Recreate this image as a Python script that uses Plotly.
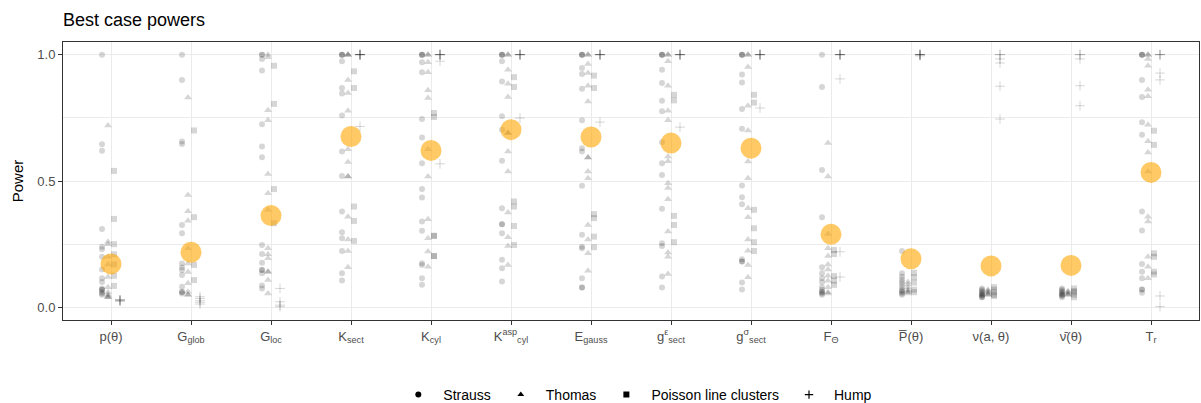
import plotly.graph_objects as go

# Test statistics on the x axis
categories = [
    "p(θ)", "G<sub>glob</sub>", "G<sub>loc</sub>", "K<sub>sect</sub>", "K<sub>cyl</sub>",
    "K<sup>asp</sup><sub>cyl</sub>", "E<sub>gauss</sub>", "g<sup>ε</sup><sub>sect</sub>",
    "g<sup>σ</sup><sub>sect</sub>", "F<sub>Θ</sub>", "P̅(θ)", "ν(a, θ)", "ν̄(θ)", "T<sub>r</sub>",
]

# Power of each test, one list per statistic, per alternative model
strauss = [
    [1.0, 0.645, 0.62, 0.31, 0.24, 0.23, 0.2, 0.15, 0.115, 0.1, 0.075, 0.07, 0.07, 0.06, 0.055, 0.05],
    [1.0, 0.9, 0.656, 0.646, 0.326, 0.293, 0.174, 0.158, 0.148, 0.128, 0.082, 0.062, 0.06, 0.055],
    [1.0, 1.0, 0.983, 0.937, 0.725, 0.637, 0.594, 0.247, 0.211, 0.177, 0.148, 0.148, 0.135, 0.087, 0.075],
    [1.0, 1.0, 1.0, 0.974, 0.868, 0.846, 0.759, 0.617, 0.52, 0.379, 0.297, 0.273, 0.223, 0.135, 0.106],
    [1.0, 1.0, 1.0, 0.97, 0.93, 0.745, 0.672, 0.57, 0.468, 0.435, 0.34, 0.303, 0.175, 0.168, 0.115, 0.089],
    [1.0, 1.0, 1.0, 0.974, 0.894, 0.756, 0.703, 0.58, 0.392, 0.329, 0.329, 0.293, 0.188, 0.155, 0.102],
    [1.0, 1.0, 1.0, 0.947, 0.923, 0.865, 0.74, 0.63, 0.617, 0.481, 0.287, 0.24, 0.234, 0.115, 0.079, 0.079],
    [1.0, 1.0, 1.0, 0.94, 0.888, 0.818, 0.776, 0.653, 0.57, 0.524, 0.39, 0.254, 0.243, 0.122, 0.079],
    [1.0, 1.0, 1.0, 0.921, 0.89, 0.785, 0.707, 0.482, 0.436, 0.408, 0.19, 0.181, 0.181, 0.098, 0.071],
    [1.0, 0.872, 0.544, 0.357, 0.159, 0.135, 0.115, 0.1, 0.08, 0.07, 0.062, 0.06, 0.055, 0.05],
    [0.223, 0.135, 0.122, 0.11, 0.1, 0.09, 0.08, 0.07, 0.065, 0.06, 0.055, 0.05],
    [0.075, 0.07, 0.065, 0.06, 0.055, 0.05, 0.05, 0.045, 0.04, 0.04],
    [0.075, 0.07, 0.065, 0.06, 0.055, 0.05, 0.05, 0.045, 0.04],
    [1.0, 1.0, 1.0, 0.9, 0.832, 0.732, 0.683, 0.379, 0.304, 0.172, 0.141, 0.115, 0.071, 0.071, 0.058],
]
thomas = [
    [0.72, 0.26, 0.25, 0.2, 0.17, 0.12, 0.08, 0.06, 0.05, 0.045, 0.04, 0.04],
    [0.83, 0.445, 0.38, 0.343, 0.234, 0.174, 0.14, 0.095, 0.062, 0.05, 0.05],
    [1.0, 0.99, 0.78, 0.74, 0.528, 0.452, 0.386, 0.234, 0.21, 0.194, 0.141, 0.141, 0.108, 0.055],
    [1.0, 1.0, 1.0, 0.9, 0.848, 0.778, 0.626, 0.575, 0.518, 0.518, 0.359, 0.269, 0.223, 0.159],
    [1.0, 1.0, 0.97, 0.93, 0.859, 0.828, 0.626, 0.518, 0.349, 0.273, 0.221, 0.161],
    [1.0, 1.0, 0.94, 0.885, 0.832, 0.69, 0.69, 0.617, 0.538, 0.375, 0.277, 0.243, 0.168],
    [1.0, 1.0, 0.963, 0.927, 0.877, 0.815, 0.593, 0.593, 0.538, 0.511, 0.326, 0.269, 0.214, 0.145],
    [1.0, 1.0, 0.974, 0.877, 0.778, 0.74, 0.597, 0.578, 0.491, 0.472, 0.428, 0.3, 0.217, 0.2, 0.132],
    [1.0, 1.0, 0.951, 0.798, 0.7, 0.577, 0.511, 0.392, 0.357, 0.269, 0.224, 0.168, 0.119],
    [0.65, 0.518, 0.29, 0.234, 0.203, 0.17, 0.15, 0.125, 0.105, 0.08, 0.06, 0.055],
    [0.1, 0.09, 0.08, 0.07, 0.065, 0.06, 0.055],
    [0.07, 0.065, 0.06, 0.055, 0.05, 0.05],
    [0.065, 0.06, 0.055, 0.05, 0.05],
    [1.0, 1.0, 0.983, 0.956, 0.861, 0.835, 0.723, 0.657, 0.613, 0.538, 0.359, 0.34, 0.2, 0.161, 0.115],
]
poisson_lines = [
    [0.54, 0.35, 0.25, 0.21, 0.17, 0.125, 0.085],
    [0.70, 0.357, 0.168, 0.108],
    [0.956, 0.805, 0.468, 0.333],
    [0.934, 0.868, 0.399, 0.342, 0.263],
    [0.769, 0.753, 0.283, 0.283, 0.203, 0.203],
    [0.911, 0.872, 0.419, 0.399, 0.322, 0.247],
    [0.917, 0.868, 0.369, 0.353, 0.28, 0.238],
    [0.841, 0.819, 0.362, 0.326, 0.258],
    [0.841, 0.81, 0.386, 0.313, 0.258, 0.223],
    [0.227, 0.211, 0.124, 0.106, 0.089],
    [0.137, 0.119, 0.098, 0.07, 0.06],
    [0.08, 0.07, 0.06, 0.05, 0.045],
    [0.075, 0.065, 0.06, 0.05, 0.04],
    [0.699, 0.643, 0.214, 0.2, 0.141, 0.13],
]
hump = [
    [0.03, 0.03, 0.028, 0.025, 0.025],
    [0.042, 0.035, 0.026, 0.02, 0.013],
    [0.075, 0.022, 0.009, 0.003],
    [1.0, 1.0, 1.0, 1.0, 1.0, 1.0, 0.716],
    [1.0, 1.0, 1.0, 1.0, 1.0, 0.974, 0.568],
    [1.0, 1.0, 1.0, 1.0, 1.0, 0.749],
    [1.0, 1.0, 1.0, 1.0, 1.0, 0.733],
    [1.0, 1.0, 1.0, 1.0, 1.0, 0.713],
    [1.0, 1.0, 1.0, 1.0, 1.0, 0.789],
    [1.0, 1.0, 1.0, 1.0, 1.0, 0.904, 0.22, 0.12],
    [1.0, 1.0, 1.0, 1.0, 1.0, 0.995],
    [1.0, 1.0, 0.983, 0.967, 0.875, 0.745],
    [1.0, 1.0, 0.983, 0.877, 0.798],
    [1.0, 1.0, 1.0, 0.927, 0.9, 0.045, 0.003],
]

# Average power of each statistic
mean_power = [0.172, 0.218, 0.363, 0.676, 0.621, 0.703, 0.674, 0.65, 0.63, 0.289, 0.192, 0.164, 0.166, 0.534]

models = [
    ("Strauss", strauss, "circle"),
    ("Thomas", thomas, "triangle-up"),
    ("Poisson line clusters", poisson_lines, "square"),
    ("Hump", hump, "cross-thin"),
]

dodge = 0.3
n_groups = len(models)
point_col = "rgba(0,0,0,0.16)"

fig = go.Figure()

for gi, (name, series, symbol) in enumerate(models):
    offset = -dodge / 2 + dodge / n_groups * (gi + 0.5)
    xs, ys = [], []
    for ci, vals in enumerate(series):
        xs += [ci + 1 + offset] * len(vals)
        ys += vals
    size = 7 if symbol in ("triangle-up", "cross-thin") else 6
    fig.add_trace(go.Scatter(
        x=xs, y=ys, mode="markers", showlegend=False, hoverinfo="skip",
        marker=dict(symbol=symbol, size=size, color=point_col,
                    line=dict(width=1 if symbol == "cross-thin" else 0, color=point_col)),
    ))

# Average power markers
fig.add_trace(go.Scatter(
    x=list(range(1, len(categories) + 1)), y=mean_power, mode="markers", showlegend=False,
    marker=dict(size=21, color="rgba(255,165,0,0.6)", line=dict(width=0)),
))

# Legend keys drawn solid
for name, _, symbol in models:
    fig.add_trace(go.Scatter(
        x=[None], y=[None], mode="markers", name=name,
        marker=dict(symbol=symbol, size=6, color="black",
                    line=dict(width=1.2 if symbol == "cross-thin" else 0, color="black")),
    ))

grid = "#ebebeb"
fig.update_layout(
    width=1201, height=403,
    margin=dict(l=63, r=2, t=42, b=83, autoexpand=False),
    paper_bgcolor="white", plot_bgcolor="white",
    font=dict(family="Liberation Sans, Arial, sans-serif", color="black"),
    title=dict(text="Best case powers", x=63 / 1201, xanchor="left", xref="container",
               y=1 - 20 / 403, yanchor="middle", font=dict(size=18, color="black")),
    legend=dict(orientation="h", x=0.529, xanchor="center", xref="container",
                y=1 - 395 / 403, yanchor="middle", yref="container",
                font=dict(size=14, color="black"), itemwidth=40, tracegroupgap=0,
                entrywidth=0),
    xaxis=dict(
        range=[0.4, len(categories) + 0.6], tickmode="array", automargin=False,
        tickvals=list(range(1, len(categories) + 1)), ticktext=categories,
        showgrid=True, gridcolor=grid, gridwidth=1.1, zeroline=False,
        showline=True, mirror=True, linecolor="#333333", linewidth=1,
        ticks="outside", ticklen=4, tickcolor="#333333",
        tickfont=dict(size=13, color="#4d4d4d"),
    ),
    yaxis=dict(
        range=[-0.05, 1.05], tickmode="array", tickvals=[0, 0.5, 1.0], automargin=False,
        ticktext=["0.0", "0.5", "1.0"],
        showgrid=True, gridcolor=grid, gridwidth=1.1, zeroline=False,
        minor=dict(tickvals=[0.25, 0.75], showgrid=True, gridcolor=grid, gridwidth=0.6, ticks=""),
        showline=True, mirror=True, linecolor="#333333", linewidth=1,
        ticks="outside", ticklen=4, tickcolor="#333333",
        tickfont=dict(size=13, color="#4d4d4d"),
        title=dict(text="Power", font=dict(size=15, color="black"), standoff=10),
    ),
)

fig.write_html("out.html")
